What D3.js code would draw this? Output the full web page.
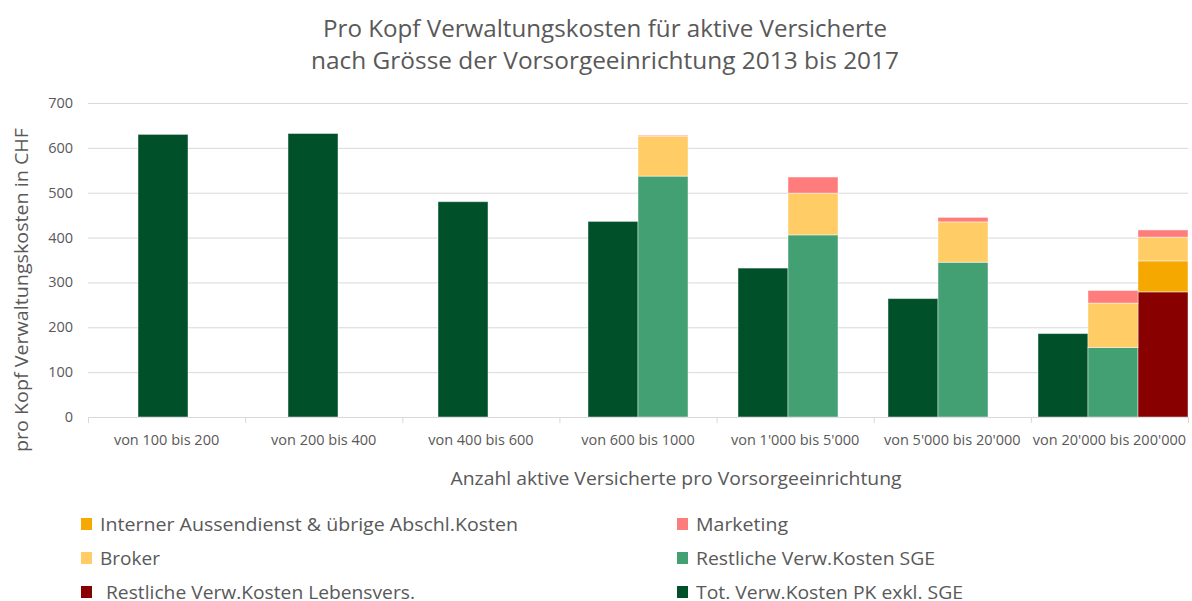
<!DOCTYPE html>
<html>
<head>
<meta charset="utf-8">
<script src="https://cdn.jsdelivr.net/npm/d3@7"></script>
<style>
  body { margin: 0; background: #fff; }
  text { font-family: "Open Sans", "Noto Sans", sans-serif; fill: #595959; }
</style>
</head>
<body>
<div id="chart"></div>
<script>
// categories and values
const categories = ["von 100 bis 200", "von 200 bis 400", "von 400 bis 600", "von 600 bis 1000",
                    "von 1'000 bis 5'000", "von 5'000 bis 20'000", "von 20'000 bis 200'000"];
const totPK        = [630, 632, 480, 436, 332, 264, 186];
const sgeRest      = [0, 0, 0, 537, 406, 345, 155];
const sgeBroker    = [0, 0, 0, 89, 93, 90, 99];
const sgeMarketing = [0, 0, 0, 2, 36, 10, 28];
// life insurance column only exists in the last group
const lebenRest      = [0, 0, 0, 0, 0, 0, 279];
const lebenAussen    = [0, 0, 0, 0, 0, 0, 69];
const lebenBroker    = [0, 0, 0, 0, 0, 0, 53];
const lebenMarketing = [0, 0, 0, 0, 0, 0, 16];
const yTicks = [0, 100, 200, 300, 400, 500, 600, 700];

const legendItems = [
  {key: "aussen", label: "Interner Aussendienst & übrige Abschl.Kosten", w: 418},
  {key: "marketing", label: "Marketing", w: 92},
  {key: "broker", label: "Broker", w: 60},
  {key: "sge", label: "Restliche Verw.Kosten SGE", w: 239},
  {key: "leben", label: "Restliche Verw.Kosten Lebensvers.", w: 309},
  {key: "tot", label: "Tot. Verw.Kosten PK exkl. SGE", w: 267}
];

const colors = {
  tot: "#00502a", sge: "#43a073", leben: "#880000",
  aussen: "#f5a800", broker: "#ffcc66", marketing: "#ff7c7c"
};
const keys = ["tot", "sge", "leben", "aussen", "broker", "marketing"];

const W = 1192, H = 601;
const plot = {left: 88, right: 1188, top: 103, bottom: 417};

const svg = d3.select("#chart").append("svg")
  .attr("width", W).attr("height", H);

// rows: each category uses 3 column slots (tot, SGE, Lebensvers.), shifted one slot
const rows = [];
categories.forEach(function (c, i) {
  rows.push({slot: 3 * i + 1, tot: totPK[i], sge: 0, leben: 0, aussen: 0, broker: 0, marketing: 0});
  if (sgeRest[i] > 0)
    rows.push({slot: 3 * i + 2, tot: 0, sge: sgeRest[i], leben: 0, aussen: 0, broker: sgeBroker[i], marketing: sgeMarketing[i]});
  if (lebenRest[i] > 0)
    rows.push({slot: 3 * i + 3, tot: 0, sge: 0, leben: lebenRest[i], aussen: lebenAussen[i], broker: lebenBroker[i], marketing: lebenMarketing[i]});
});

const x = d3.scaleBand().domain(categories).range([plot.left, plot.right]).padding(0);
const xSlot = d3.scaleBand().domain(d3.range(22)).range([plot.left, plot.right]).padding(0);
const y = d3.scaleLinear().domain([0, 700]).range([plot.bottom, plot.top]);

// gridlines
svg.append("g").selectAll("line").data(yTicks).enter().append("line")
  .attr("x1", plot.left).attr("x2", plot.right)
  .attr("y1", function (d) { return y(d) + 0.5; })
  .attr("y2", function (d) { return y(d) + 0.5; })
  .attr("stroke", "#d9d9d9").attr("stroke-width", 1);

// y tick labels
svg.append("g").selectAll("text").data(yTicks).enter().append("text")
  .attr("x", 73).attr("y", function (d) { return y(d) + 5; })
  .attr("text-anchor", "end").style("font-size", "14.5px")
  .text(function (d) { return d; });

// x axis ticks between categories
svg.append("g").selectAll("line").data(d3.range(categories.length + 1)).enter().append("line")
  .attr("x1", function (i) { return plot.left + i * x.bandwidth() + 0.5; })
  .attr("x2", function (i) { return plot.left + i * x.bandwidth() + 0.5; })
  .attr("y1", plot.bottom).attr("y2", plot.bottom + 6)
  .attr("stroke", "#d9d9d9");

svg.append("g").selectAll("text").data(categories).enter().append("text")
  .attr("x", function (d) { return x(d) + x.bandwidth() / 2; })
  .attr("y", 445)
  .attr("text-anchor", "middle").style("font-size", "14.5px")
  .text(function (d) { return d; });

// stacked bars
const series = d3.stack().keys(keys)(rows);
svg.append("g").selectAll("g").data(series).enter().append("g")
  .attr("fill", function (s) { return colors[s.key]; })
  .selectAll("rect")
  .data(function (s) { return s.filter(function (d) { return d[1] > d[0]; }); })
  .enter().append("rect")
    .attr("x", function (d) { return xSlot(d.data.slot); })
    .attr("width", xSlot.bandwidth())
    .attr("y", function (d) { return y(d[1]); })
    .attr("height", function (d) { return y(d[0]) - y(d[1]); })
    .attr("stroke", "rgba(255,255,255,0.45)").attr("stroke-width", 1);

// titles
svg.append("text").attr("x", 605).attr("y", 37).attr("text-anchor", "middle")
  .style("font-size", "24px")
  .attr("textLength", 564).attr("lengthAdjust", "spacingAndGlyphs")
  .text("Pro Kopf Verwaltungskosten für aktive Versicherte");
svg.append("text").attr("x", 605).attr("y", 69).attr("text-anchor", "middle")
  .style("font-size", "24px")
  .attr("textLength", 588).attr("lengthAdjust", "spacingAndGlyphs")
  .text("nach Grösse der Vorsorgeeinrichtung 2013 bis 2017");

svg.append("text")
  .attr("transform", "translate(28,290) rotate(-90)")
  .attr("text-anchor", "middle").style("font-size", "18px")
  .attr("textLength", 324).attr("lengthAdjust", "spacingAndGlyphs")
  .text("pro Kopf Verwaltungskosten  in CHF");

svg.append("text").attr("x", 676).attr("y", 485).attr("text-anchor", "middle")
  .style("font-size", "18px")
  .attr("textLength", 451).attr("lengthAdjust", "spacingAndGlyphs")
  .text("Anzahl aktive Versicherte pro Vorsorgeeinrichtung");

// legend, two columns
const legend = svg.append("g").selectAll("g").data(legendItems).enter().append("g")
  .attr("transform", function (d, i) {
    return "translate(" + (i % 2 === 0 ? 81 : 677) + "," + (524 + Math.floor(i / 2) * 34) + ")";
  });
legend.append("rect").attr("x", 0).attr("y", -6).attr("width", 11).attr("height", 12)
  .attr("fill", function (d) { return colors[d.key]; });
legend.append("text")
  .attr("x", function (d) { return d.key === "leben" ? 25 : 19; })
  .attr("y", 7).style("font-size", "18px")
  .attr("textLength", function (d) { return d.w; }).attr("lengthAdjust", "spacingAndGlyphs")
  .text(function (d) { return d.label; });
</script>
</body>
</html>
